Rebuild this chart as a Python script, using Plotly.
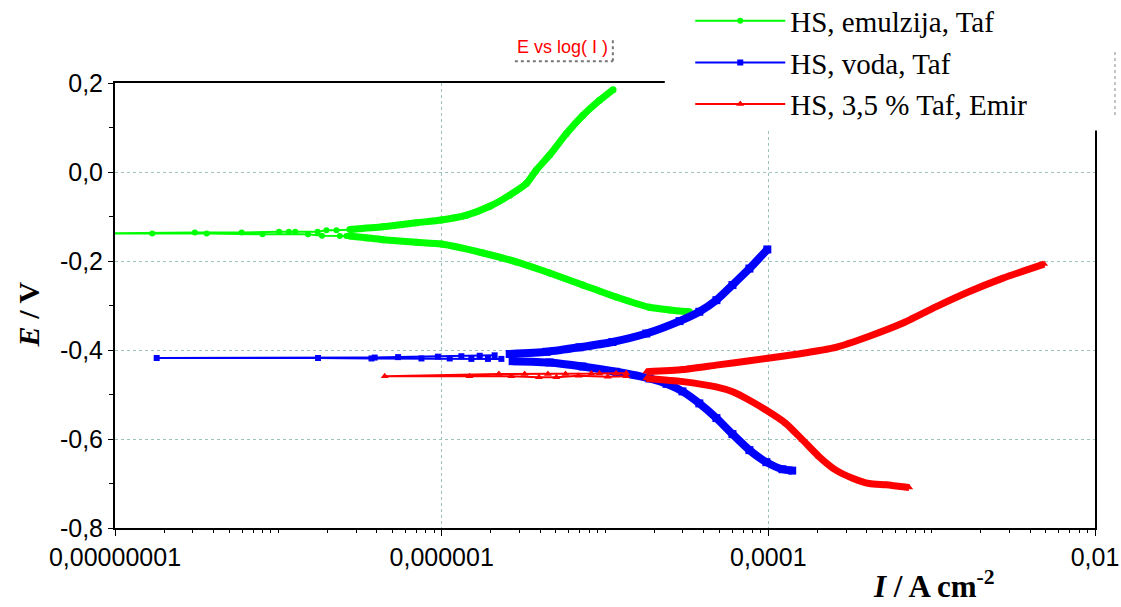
import plotly.graph_objects as go

# ---------------- data (I in A cm^-2, E in V) ----------------
# HS, emulzija, Taf (green)
green_cat_I = [3.29e-5, 2.48e-5, 1.87e-5, 1.17e-5, 7.31e-6, 4.58e-6, 2.86e-6, 1.79e-6, 9.95e-7, 7.00e-7, 4.36e-7, 2.74e-7]
green_cat_E = [-0.314, -0.310, -0.304, -0.281, -0.254, -0.227, -0.202, -0.182, -0.162, -0.158, -0.152, -0.144]
green_low_I = [2.61e-7, 2.38e-7, 1.85e-7, 1.52e-7, 8.00e-8, 3.64e-8, 1.69e-8, 8.41e-9,
               3.08e-8, 5.96e-8, 1.01e-7, 1.16e-7, 1.27e-7, 1.74e-7, 1.97e-7, 2.27e-7, 2.87e-7]
green_low_E = [-0.144, -0.144, -0.143, -0.140, -0.140, -0.138, -0.138, -0.138,
               -0.136, -0.136, -0.134, -0.134, -0.134, -0.134, -0.131, -0.131, -0.129]
green_an_I = [2.74e-7, 4.36e-7, 7.00e-7, 9.95e-7, 1.42e-6, 1.97e-6, 2.61e-6, 3.30e-6, 3.79e-6, 4.58e-6, 5.79e-6, 7.31e-6, 9.25e-6, 1.12e-5]
green_an_E = [-0.129, -0.123, -0.114, -0.108, -0.097, -0.077, -0.052, -0.026, 0.004, 0.038, 0.086, 0.127, 0.161, 0.185]

# HS, voda, Taf (blue)
blue_cat_I = [1.40e-4, 1.22e-4, 9.73e-5, 7.66e-5, 6.03e-5, 4.81e-5, 3.78e-5, 2.98e-5, 2.38e-5, 1.87e-5, 1.17e-5, 7.28e-6, 4.58e-6, 2.72e-6]
blue_cat_E = [-0.671, -0.668, -0.652, -0.625, -0.589, -0.553, -0.520, -0.493, -0.476, -0.464, -0.449, -0.437, -0.428, -0.425]
blue_low_I = [2.32e-6, 1.92e-6, 1.52e-6, 1.12e-6, 7.52e-7, 3.72e-7, 1.75e-7, 1.80e-8,
              3.89e-7, 5.41e-7, 9.48e-7, 1.32e-6, 1.71e-6, 2.11e-6]
blue_low_E = [-0.420, -0.420, -0.420, -0.419, -0.419, -0.419, -0.418, -0.418,
              -0.417, -0.416, -0.415, -0.414, -0.413, -0.412]
blue_an_I = [2.61e-6, 4.39e-6, 6.98e-6, 1.11e-5, 1.79e-5, 2.86e-5, 3.78e-5, 4.81e-5, 6.03e-5, 7.66e-5, 9.86e-5]
blue_an_E = [-0.409, -0.404, -0.394, -0.382, -0.363, -0.335, -0.314, -0.288, -0.254, -0.217, -0.174]

# HS, 3,5 % Taf, Emir (red)
red_cat_I = [7.28e-4, 5.25e-4, 4.15e-4, 3.28e-4, 2.59e-4, 2.05e-4, 1.62e-4, 1.28e-4, 9.68e-5, 7.66e-5, 6.05e-5, 4.79e-5, 2.99e-5, 1.79e-5]
red_cat_E = [-0.709, -0.703, -0.700, -0.688, -0.670, -0.640, -0.602, -0.565, -0.535, -0.513, -0.494, -0.483, -0.471, -0.464]
red_low_I = [1.35e-5, 1.04e-5, 6.89e-6, 5.04e-6, 3.94e-6, 2.67e-6, 1.48e-6, 4.48e-7,
             2.24e-6, 3.22e-6, 4.47e-6, 5.73e-6, 8.24e-6, 9.25e-6, 1.17e-5, 1.35e-5]
red_low_E = [-0.459, -0.460, -0.458, -0.461, -0.461, -0.459, -0.459, -0.459,
             -0.454, -0.454, -0.454, -0.454, -0.453, -0.453, -0.452, -0.452]
red_an_I = [1.79e-5, 2.99e-5, 4.79e-5, 7.66e-5, 1.22e-4, 1.78e-4, 2.59e-4, 4.15e-4, 6.62e-4, 1.06e-3, 1.69e-3, 2.71e-3, 4.88e-3]
red_an_E = [-0.449, -0.444, -0.434, -0.424, -0.414, -0.405, -0.394, -0.369, -0.340, -0.303, -0.269, -0.239, -0.207]

series_names = ["HS, emulzija, Taf", "HS, voda, Taf", "HS, 3,5 % Taf, Emir"]

y_tick_vals = [-0.8, -0.6, -0.4, -0.2, 0.0, 0.2]
y_tick_text = ["-0,8", "-0,6", "-0,4", "-0,2", "0,0", "0,2"]
x_tick_vals = [1e-8, 1e-6, 1e-4, 1e-2]
x_tick_text = ["0,00000001", "0,000001", "0,0001", "0,01"]

# ---------------- figure ----------------
fig = go.Figure()

styles = [
    dict(color="#00ff00", symbol="circle", msize=6, band=7),
    dict(color="#0000ff", symbol="square", msize=6, band=8),
    dict(color="#ff0000", symbol="triangle-up", msize=7, band=7),
]
groups = [
    (green_cat_I, green_cat_E, green_low_I, green_low_E, green_an_I, green_an_E),
    (blue_cat_I, blue_cat_E, blue_low_I, blue_low_E, blue_an_I, blue_an_E),
    (red_cat_I, red_cat_E, red_low_I, red_low_E, red_an_I, red_an_E),
]

for i, (name, st, g) in enumerate(zip(series_names, styles, groups)):
    cI, cE, lI, lE, aI, aE = g
    for bI, bE in ((cI, cE), (aI, aE)):
        fig.add_trace(go.Scatter(
            x=bI, y=bE, mode="lines+markers",
            line=dict(color=st["color"], width=st["band"], shape="spline", smoothing=0.6),
            marker=dict(color=st["color"], symbol=st["symbol"], size=st["band"]),
            showlegend=False, legendgroup=f"g{i}", hoverinfo="skip"))
    fig.add_trace(go.Scatter(
        x=lI, y=lE, mode="lines+markers", name=name, legendgroup=f"g{i}",
        line=dict(color=st["color"], width=2),
        marker=dict(color=st["color"], symbol=st["symbol"], size=st["msize"]),
        cliponaxis=False))

x_minor = [m * 10.0 ** e for e in range(-8, -2) for m in range(2, 11)]

tick_font = dict(family="Liberation Sans, Arial", size=25, color="black")
fig.update_xaxes(
    type="log", range=[-8, -2], automargin=False,
    tickvals=x_tick_vals, ticktext=x_tick_text, tickfont=tick_font,
    ticks="outside", ticklen=6, tickcolor="black",
    showline=True, linecolor="black", linewidth=2, mirror=True,
    showgrid=True, gridcolor="#9cc3bd", griddash="dot", gridwidth=1,
    zeroline=False,
    minor=dict(tickvals=x_minor, ticks="outside", ticklen=3, tickcolor="black", showgrid=False),
)
fig.update_yaxes(
    range=[-0.8, 0.2], automargin=False,
    tickvals=y_tick_vals, ticktext=y_tick_text, tickfont=tick_font,
    ticks="outside", ticklen=5, tickcolor="black",
    showline=True, linecolor="black", linewidth=2, mirror=True,
    showgrid=True, gridcolor="#9cc3bd", griddash="dot", gridwidth=1,
    zeroline=False,
    minor=dict(tickvals=[-0.7, -0.5, -0.3, -0.1, 0.1], ticks="outside", ticklen=4, tickcolor="black", showgrid=False),
)

fig.update_layout(
    width=1121, height=607,
    margin=dict(l=115, r=26, t=83, b=79, autoexpand=False),
    paper_bgcolor="white", plot_bgcolor="white",
    showlegend=True,
    legend=dict(
        x=0.587, y=1.197, xanchor="left", yanchor="top",
        bgcolor="rgba(255,255,255,0)", borderwidth=0,
        font=dict(family="Liberation Serif, Times New Roman", size=29, color="black"),
        tracegroupgap=1, itemwidth=90,
    ),
    shapes=[
        dict(type="rect", xref="paper", yref="paper", x0=0.561, x1=1.01, y0=0.893, y1=1.19,
             fillcolor="white", line=dict(width=0), layer="above"),
        dict(type="line", xref="paper", yref="paper", x0=1.0204, x1=1.0204, y0=0.928, y1=1.074,
             line=dict(color="#888888", width=1, dash="dot")),
        dict(type="line", xref="paper", yref="paper", x0=0.508, x1=0.508, y0=1.049, y1=1.101,
             line=dict(color="#777777", width=2, dash="dot")),
        dict(type="line", xref="paper", yref="paper", x0=0.408, x1=0.508, y0=1.049, y1=1.049,
             line=dict(color="#777777", width=2, dash="dot")),
    ],
    annotations=[
        dict(text="E vs log( I )", xref="paper", yref="paper", x=0.457, y=1.081,
             xanchor="center", yanchor="middle",
             showarrow=False, font=dict(family="Liberation Sans, Arial", size=18, color="red")),
        dict(text="<b><i>E</i> / V</b>", xref="paper", yref="paper", x=-0.0888, y=0.48,
             xanchor="center", yanchor="middle",
             textangle=-90, showarrow=False,
             font=dict(family="Liberation Serif, Times New Roman", size=30, color="black")),
        dict(text="<b><i>I</i> / A cm<sup>-2</sup></b>", xref="paper", yref="paper", x=0.836, y=-0.128,
             xanchor="center", yanchor="middle",
             showarrow=False,
             font=dict(family="Liberation Serif, Times New Roman", size=31, color="black")),
    ],
)

fig.write_html("out.html", config={"displayModeBar": False},
               post_script="document.body.style.margin='0';")
